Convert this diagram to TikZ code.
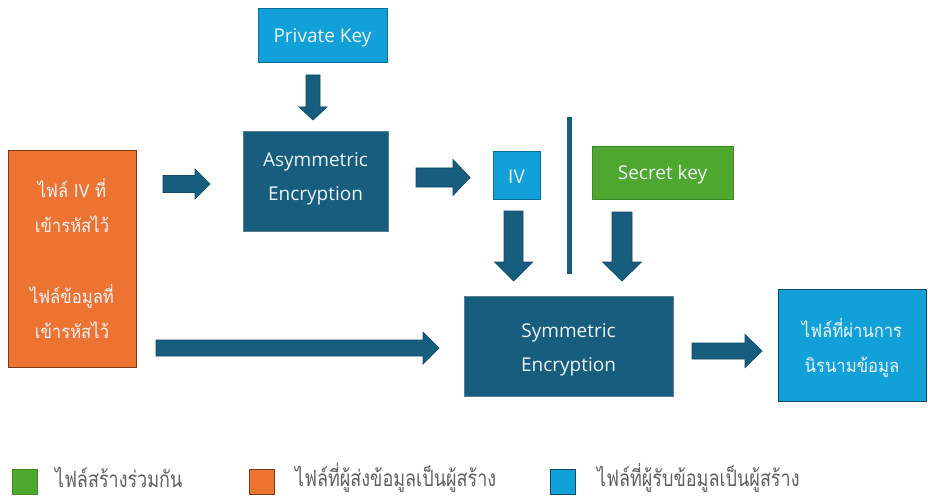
\documentclass[tikz,border=0pt]{standalone}
\usepackage{fontspec}
\setmainfont{Open Sans}
\newfontfamily\thai[Script=Thai,FakeStretch=0.9]{Loma}
\newfontfamily\thainarrow[Script=Thai,FakeStretch=0.8]{Loma}
\definecolor{dteal}{HTML}{175D7E}
\definecolor{dtealline}{HTML}{0F4A66}
\definecolor{lblue}{HTML}{12A0D8}
\definecolor{lblueline}{HTML}{0E6E9C}
\definecolor{orng}{HTML}{EC7332}
\definecolor{orngline}{HTML}{7A3A12}
\definecolor{grn}{HTML}{4EA72E}
\definecolor{grnline}{HTML}{3B8A22}
\definecolor{legtext}{HTML}{606060}
\definecolor{boxtext}{HTML}{EEF4F8}
\tikzset{
  box/.style={draw, line width=0.9pt, inner sep=0pt},
  darkbox/.style={box, fill=dteal, draw=dtealline!70!white},
  bluebox/.style={box, fill=lblue, draw=lblueline},
  txt/.style={inner sep=0pt, align=center, text=boxtext},
  blockarrow/.style={fill=dteal, draw=dtealline, line width=0.7pt, line join=miter},
  legsq/.style={draw, line width=0.9pt, minimum width=25pt, minimum height=25pt, inner sep=0pt},
  legtxt/.style={anchor=west, inner sep=0pt, text=legtext, font=\thainarrow\fontsize{22.5}{26}\selectfont},
  latin/.style={txt, font=\fontsize{19}{34}\selectfont},
  thaitxt/.style={txt, font=\thai\fontsize{18.5}{35}\selectfont}
}
% horizontal block arrow: x1, xtip, yc, shaft half, head half, head length
\newcommand\harrowblk[6]{%
  \filldraw[blockarrow] (#1,#3-#4) -- (#2-#6,#3-#4) -- (#2-#6,#3-#5) -- (#2,#3)
    -- (#2-#6,#3+#5) -- (#2-#6,#3+#4) -- (#1,#3+#4) -- cycle;}
% vertical block arrow: xc, y1, ytip, shaft half, head half, head length
\newcommand\varrowblk[6]{%
  \filldraw[blockarrow] (#1-#4,#2) -- (#1-#4,#3-#6) -- (#1-#5,#3-#6) -- (#1,#3)
    -- (#1+#5,#3-#6) -- (#1+#4,#3-#6) -- (#1+#4,#2) -- cycle;}
\begin{document}
\begin{tikzpicture}[x=1pt,y=-1pt]
\useasboundingbox (0,0) rectangle (928,497);

% boxes
\node[bluebox, minimum width=129pt, minimum height=54pt] (pk) at (322.5,35) {};
\node[latin, yshift=-2.5pt] (pkt) at (pk.center) {Private Key};
\node[darkbox, minimum width=145pt, minimum height=100pt] (asym) at (315.5,181) {};
\node[latin, yshift=2pt] (asymt) at (asym.center) {Asymmetric\\Encryption};
\node[bluebox, minimum width=47pt, minimum height=48pt] (iv) at (516.5,175) {};
\node[latin, yshift=-2pt] (ivt) at (iv.center) {IV};
\node[box, fill=grn, draw=grnline, minimum width=141pt, minimum height=53pt] (sk) at (662.5,172.5) {};
\node[latin, yshift=-2.5pt] (skt) at (sk.center) {Secret key};
\node[darkbox, minimum width=209pt, minimum height=100pt] (sym) at (568.5,346) {};
\node[latin, yshift=-4pt] (symt) at (sym.center) {Symmetric\\Encryption};
\node[box, fill=orng, draw=orngline, minimum width=128pt, minimum height=217pt] (src) at (72,258.5) {};
\node[thaitxt] (srct) at (src.center)
  {ไฟล์ {\rmfamily\fontsize{18}{35}\selectfont IV} ที่\\เข้ารหัสไว้\\[36pt]ไฟล์ข้อมูลที่\\เข้ารหัสไว้};
\node[bluebox, draw=dtealline, minimum width=148pt, minimum height=112pt] (out) at (852,345) {};
\node[thaitxt, yshift=-3pt] (outt) at (out.center) {ไฟล์ที่ผ่านการ\\นิรนามข้อมูล};

% separator line
\fill[dteal] (567,117) rectangle (572,274);

% block arrows
\harrowblk{163}{210}{184}{8.5}{15}{15}
\varrowblk{313}{75}{120}{7}{14}{13}
\harrowblk{416}{470}{177.5}{9.5}{18}{17}
\varrowblk{513.5}{211}{281}{9.5}{19}{19}
\varrowblk{622}{212}{281}{10}{19.5}{19}
\harrowblk{156}{439}{348}{8}{16}{16}
\harrowblk{692}{762}{351}{8}{16.5}{17}

% legend
\node[legsq, fill=grn, draw=grnline] (lg) at (25,481.5) {};
\node[legtxt] (lgt) at (55,477.5) {ไฟล์สร้างร่วมกัน};
\node[legsq, fill=orng, draw=orngline] (lo) at (261.5,481.5) {};
\node[legtxt] (lot) at (295,477.5) {ไฟล์ที่ผู้ส่งข้อมูลเป็นผู้สร้าง};
\node[legsq, fill=lblue, draw=dtealline] (lb) at (563,481.5) {};
\node[legtxt] (lbt) at (597,477.5) {ไฟล์ที่ผู้รับข้อมูลเป็นผู้สร้าง};
\end{tikzpicture}
\end{document}
